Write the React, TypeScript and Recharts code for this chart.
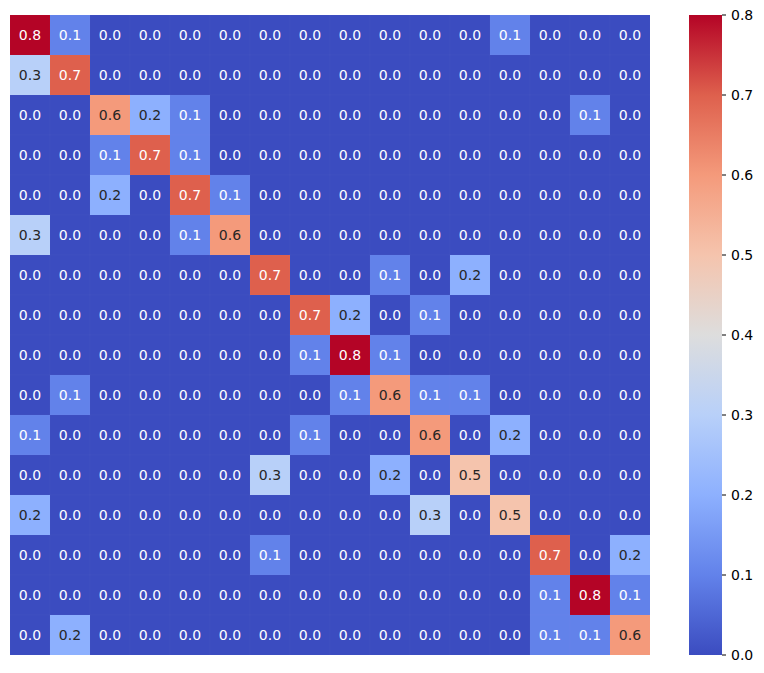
import React from "react";
import {
  ScatterChart,
  Scatter,
  XAxis,
  YAxis,
  BarChart,
  Bar,
} from "recharts";

// confusion-style matrix, rows top to bottom
const matrix: number[][] = [
  [0.8, 0.1, 0, 0, 0, 0, 0, 0, 0, 0, 0, 0, 0.1, 0, 0, 0],
  [0.3, 0.7, 0, 0, 0, 0, 0, 0, 0, 0, 0, 0, 0, 0, 0, 0],
  [0, 0, 0.6, 0.2, 0.1, 0, 0, 0, 0, 0, 0, 0, 0, 0, 0.1, 0],
  [0, 0, 0.1, 0.7, 0.1, 0, 0, 0, 0, 0, 0, 0, 0, 0, 0, 0],
  [0, 0, 0.2, 0, 0.7, 0.1, 0, 0, 0, 0, 0, 0, 0, 0, 0, 0],
  [0.3, 0, 0, 0, 0.1, 0.6, 0, 0, 0, 0, 0, 0, 0, 0, 0, 0],
  [0, 0, 0, 0, 0, 0, 0.7, 0, 0, 0.1, 0, 0.2, 0, 0, 0, 0],
  [0, 0, 0, 0, 0, 0, 0, 0.7, 0.2, 0, 0.1, 0, 0, 0, 0, 0],
  [0, 0, 0, 0, 0, 0, 0, 0.1, 0.8, 0.1, 0, 0, 0, 0, 0, 0],
  [0, 0.1, 0, 0, 0, 0, 0, 0, 0.1, 0.6, 0.1, 0.1, 0, 0, 0, 0],
  [0.1, 0, 0, 0, 0, 0, 0, 0.1, 0, 0, 0.6, 0, 0.2, 0, 0, 0],
  [0, 0, 0, 0, 0, 0, 0.3, 0, 0, 0.2, 0, 0.5, 0, 0, 0, 0],
  [0.2, 0, 0, 0, 0, 0, 0, 0, 0, 0, 0.3, 0, 0.5, 0, 0, 0],
  [0, 0, 0, 0, 0, 0, 0.1, 0, 0, 0, 0, 0, 0, 0.7, 0, 0.2],
  [0, 0, 0, 0, 0, 0, 0, 0, 0, 0, 0, 0, 0, 0.1, 0.8, 0.1],
  [0, 0.2, 0, 0, 0, 0, 0, 0, 0, 0, 0, 0, 0, 0.1, 0.1, 0.6],
];

const colorbarTicks = [0, 0.1, 0.2, 0.3, 0.4, 0.5, 0.6, 0.7, 0.8];
const vmin = 0;
const vmax = 0.8;

// coolwarm anchors at 0, 1/8, ... 1
const coolwarm: [number, number, number][] = [
  [59, 76, 192],
  [98, 130, 234],
  [141, 176, 254],
  [184, 208, 249],
  [221, 221, 221],
  [245, 196, 173],
  [244, 154, 123],
  [222, 96, 77],
  [180, 4, 38],
];

function rgbAt(t: number): [number, number, number] {
  const c = Math.max(0, Math.min(1, t)) * (coolwarm.length - 1);
  const i = Math.min(Math.floor(c), coolwarm.length - 2);
  const f = c - i;
  const a = coolwarm[i];
  const b = coolwarm[i + 1];
  return [0, 1, 2].map((k) => Math.round(a[k] + (b[k] - a[k]) * f)) as [
    number,
    number,
    number
  ];
}

const toCss = (c: number[]) => `rgb(${c[0]},${c[1]},${c[2]})`;

function luminance(c: number[]) {
  const lin = c.map((v) => {
    const s = v / 255;
    return s <= 0.03928 ? s / 12.92 : Math.pow((s + 0.055) / 1.055, 2.4);
  });
  return 0.2126 * lin[0] + 0.7152 * lin[1] + 0.0722 * lin[2];
}

const N = matrix.length;
const cells = matrix.flatMap((row, r) =>
  row.map((v, c) => ({ x: c + 0.5, y: r + 0.5, v }))
);

const PLOT = 640;
const CELL = PLOT / N;
const FONT = "'DejaVu Sans', sans-serif";

function HeatCell(props: any) {
  const { cx, cy, payload } = props;
  const rgb = rgbAt((payload.v - vmin) / (vmax - vmin));
  const dark = luminance(rgb) > 0.408;
  return (
    <g>
      <rect
        x={cx - CELL / 2}
        y={cy - CELL / 2}
        width={CELL}
        height={CELL}
        fill={toCss(rgb)}
        stroke="rgba(255,255,255,0.03)"
        strokeWidth={0.6}
      />
      <text
        x={cx}
        y={cy}
        textAnchor="middle"
        dominantBaseline="central"
        fontFamily={FONT}
        fontSize={14}
        fill={dark ? "#262626" : "#ffffff"}
      >
        {payload.v.toFixed(1)}
      </text>
    </g>
  );
}

export default function App() {
  return (
    <div style={{ display: "flex", fontFamily: FONT }}>
      <div style={{ flex: "none", width: 660 }}>
        <ScatterChart
          width={660}
          height={657}
          margin={{ top: 7, right: 18, bottom: 10, left: 2 }}
        >
          <XAxis type="number" dataKey="x" domain={[0, N]} hide />
          <YAxis type="number" dataKey="y" domain={[0, N]} reversed hide />
          <Scatter data={cells} shape={HeatCell} isAnimationActive={false} />
        </ScatterChart>
      </div>
      <div style={{ flex: "none", width: 88 }}>
        <BarChart
          width={88}
          height={657}
          data={[{ name: "cb", v: vmax }]}
          margin={{ top: 7, right: 0, bottom: 10, left: 21 }}
          barCategoryGap={0}
        >
          <defs>
            <linearGradient id="cbGrad" x1="0" y1="1" x2="0" y2="0">
              {coolwarm.map((c, i) => (
                <stop
                  key={i}
                  offset={`${(i / (coolwarm.length - 1)) * 100}%`}
                  stopColor={toCss(c)}
                />
              ))}
            </linearGradient>
          </defs>
          <XAxis dataKey="name" hide />
          <YAxis
            orientation="right"
            type="number"
            domain={[vmin, vmax]}
            ticks={colorbarTicks}
            interval={0}
            width={34}
            axisLine={false}
            tickSize={4}
            tickMargin={5}
            tickLine={{ stroke: "#000" }}
            tick={{ fill: "#000", fontSize: 14, fontFamily: FONT }}
            tickFormatter={(v: number) => v.toFixed(1)}
          />
          <Bar dataKey="v" fill="url(#cbGrad)" isAnimationActive={false} />
        </BarChart>
      </div>
    </div>
  );
}
